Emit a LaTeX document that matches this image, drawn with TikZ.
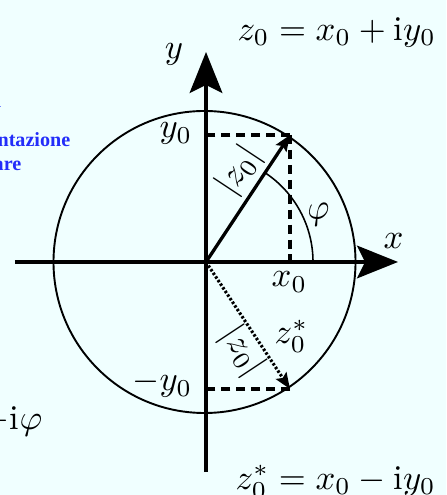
\documentclass[tikz,border=0pt]{standalone}
\usepackage{fontspec}
\newfontfamily\blufont{Liberation Serif}
\usetikzlibrary{arrows.meta}
\definecolor{bgc}{RGB}{240,255,255}
\definecolor{blutxt}{RGB}{35,45,250}
\begin{document}
\begin{tikzpicture}[x=0.288pt,y=0.288pt,
  axis/.style={line width=1pt,-{Stealth[length=11.8pt,width=9.4pt,inset=2.3pt]}},
  vec/.style={line width=0.95pt,-{Stealth[length=4.6pt,width=3.6pt,inset=0.8pt]}},
  dashln/.style={line width=0.95pt,dash pattern=on 2.6pt off 1.7pt},
  dotln/.style={line width=0.9pt,dash pattern=on 0.7pt off 0.55pt},
  lbl/.style={inner sep=0pt},
  blu/.style={inner sep=0pt,text=blutxt,font=\blufont\bfseries\fontsize{5.8}{7}\selectfont}]
\fill[bgc] (-206,-233) rectangle (240,262);
\useasboundingbox (-206,-233) rectangle (240,262);
\clip (-206,-233) rectangle (240,262);
% coordinates
\coordinate (O) at (0,0);
\coordinate (C) at (-1.5,0);
\coordinate (P) at (84,127);
\coordinate (Q) at (84,-127);
\coordinate (Px) at (84,0);
\coordinate (Py) at (0,127);
\coordinate (Qy) at (0,-127);
\coordinate (xl) at (-191,0);
\coordinate (xr) at (192,0);
\coordinate (yb) at (0,-210);
\coordinate (yt) at (0,210);
% circle
\draw[line width=0.55pt] (C) circle[radius=151];
% axes
\draw[axis] (xl) -- (xr);
\draw[axis] (yb) -- (yt);
% angle arc
\draw[line width=0.45pt] (107,0) arc[start angle=0,end angle=56.5,radius=107];
% dashed projections
\draw[dashln] (P) -- (Py);
\draw[dashln] (P) -- (Px);
\draw[dashln] (Q) -- (Qy);
% vectors
\draw[vec] (O) -- node[sloped,above,pos=0.62,inner sep=1pt] (m1) {$|z_0|$} (P);
\draw[dotln,-{Stealth[length=4.6pt,width=3.6pt,inset=0.8pt]}] (O) -- node[sloped,below,pos=0.62,inner sep=0pt] (m2) {$|z_0|$} (Q);
% labels
\node[lbl,rotate=8] (phi) at (113,47) {$\varphi$};
\node[lbl] (ylab) at (-32,208) {$y$};
\node[lbl] (xlab) at (187.5,20.5) {$x$};
\node[lbl,anchor=base west] (eq1) at (31,221.5) {$z_0 = x_0 + \mathrm{i}y_0$};
\node[lbl,anchor=base west] (eq2) at (29,-227.5) {$z_0^* = x_0 - \mathrm{i}y_0$};
\node[lbl,anchor=base east] (y0) at (-13,124) {$y_0$};
\node[lbl,anchor=base east] (my0) at (-13,-129) {$-y_0$};
\node[lbl,anchor=base west] (x0) at (65,-25) {$x_0$};
\node[lbl,anchor=base west] (zs) at (68,-82) {$z_0^*$};
\node[lbl,anchor=base east] (iphi) at (-163,-167) {$-\mathrm{i}\varphi$};
% cut-off blue text
\node[blu,anchor=base east] (b1) at (-204,154) {a};
\node[blu,anchor=base east] (b2) at (-135,115) {ntazione};
\node[blu,anchor=base east] (b3) at (-184,91) {are};
\end{tikzpicture}
\end{document}
